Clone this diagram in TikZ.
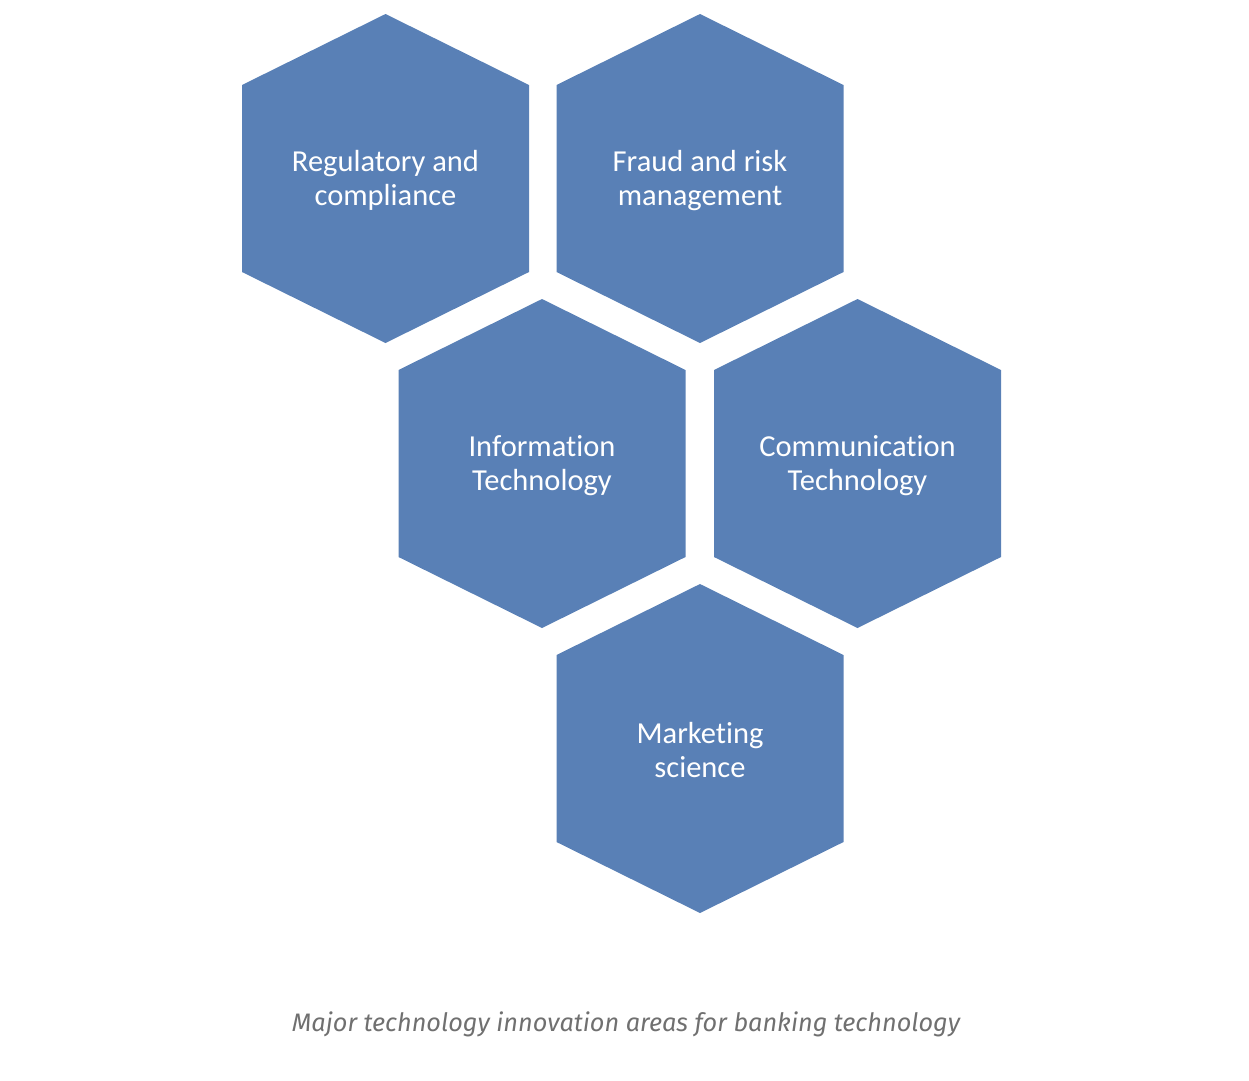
\documentclass[tikz,border=0pt]{standalone}
\usepackage{fontspec}
\setmainfont{Carlito}[Ligatures={NoCommon}]
\newfontfamily\capfont{Fira Sans}
\definecolor{hexblue}{RGB}{89,128,182}
\definecolor{capgray}{RGB}{112,112,112}
\tikzset{
  hexlabel/.style={text=white, align=center, font=\fontsize{30.5}{34}\selectfont},
  hexfill/.style={fill=hexblue, draw=none},
}
\newcommand{\hexat}[1]{\fill[hexfill] (#1) ++(0,-164.5) -- ++(143.5,71) -- ++(0,187) -- ++(-143.5,71) -- ++(-143.5,-71) -- ++(0,-187) -- cycle;}
\begin{document}
\begin{tikzpicture}[x=1pt,y=-1pt]
\useasboundingbox (0,0) rectangle (1249,1080);
\coordinate (c1) at (385.5,178.5);
\coordinate (c2) at (700,178.5);
\coordinate (c3) at (542,463.5);
\coordinate (c4) at (857.5,463.5);
\coordinate (c5) at (700,748.5);
\hexat{c1}\hexat{c2}\hexat{c3}\hexat{c4}\hexat{c5}
\node[hexlabel] (reg) at ([yshift=-2pt]c1) {Regulatory and\\compliance};
\node[hexlabel] (fraud) at ([yshift=-2pt]c2) {Fraud and risk\\management};
\node[hexlabel] (it) at ([yshift=-2pt]c3) {Information\\Technology};
\node[hexlabel] (ct) at ([yshift=-2pt]c4) {Communication\\Technology};
\node[hexlabel] (mkt) at ([yshift=-2pt]c5) {Marketing\\science};
\node[text=capgray, font=\capfont\itshape\fontsize{25.3}{30}\selectfont] (cap) at (626,1024) {Major technology innovation areas for banking technology};
\end{tikzpicture}
\end{document}
